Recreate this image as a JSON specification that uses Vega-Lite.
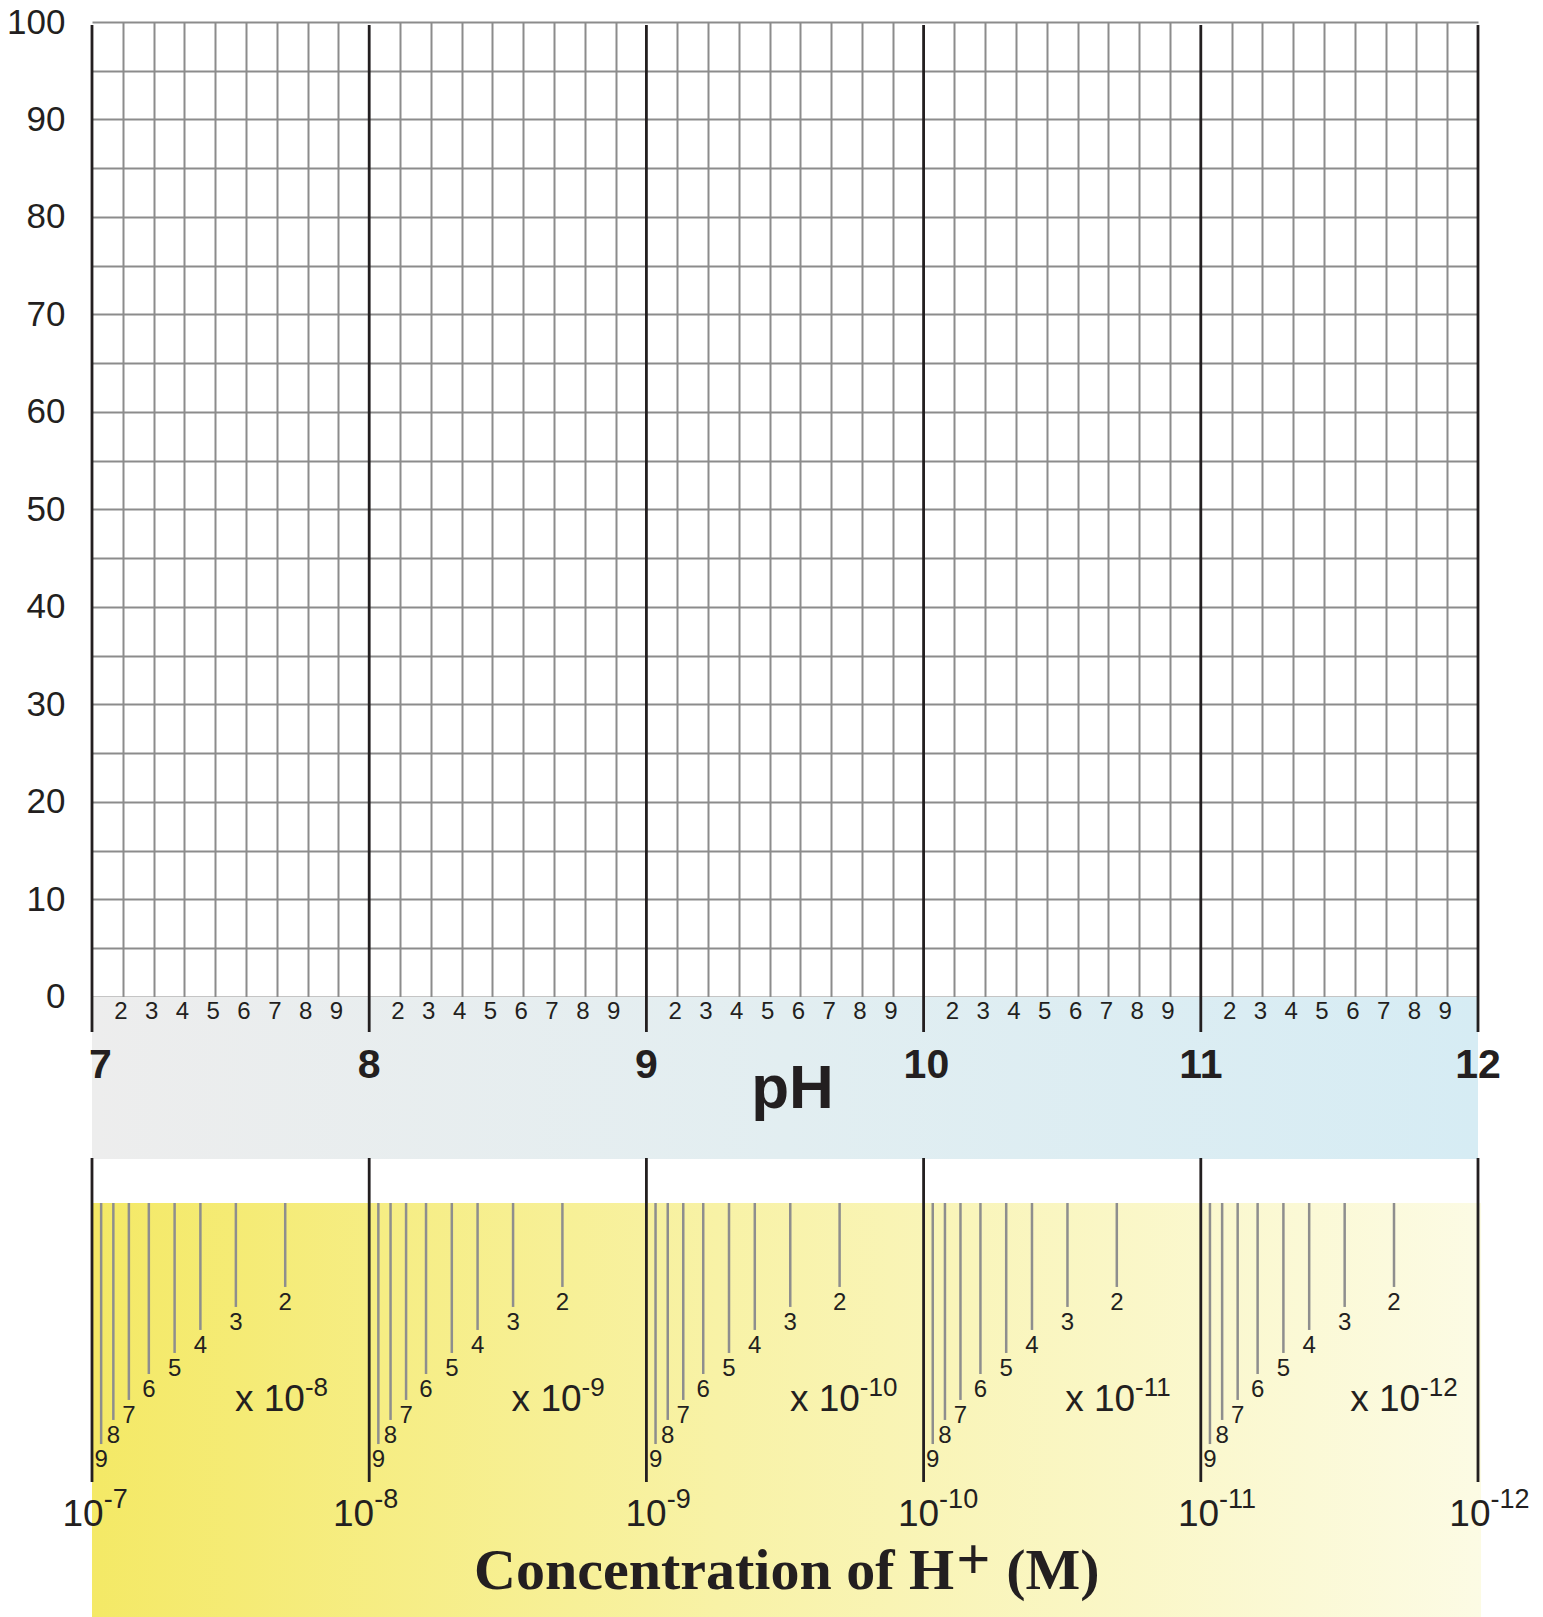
{
  "$schema": "https://vega.github.io/schema/vega-lite/v6.json",
  "width": 1386,
  "height": 1595,
  "padding": {"left": 92, "top": 22, "right": 65, "bottom": 0},
  "autosize": {"type": "none"},
  "background": "white",
  "config": {"view": {"stroke": null}},
  "datasets": {
    "phband": [{"x0": 7, "x1": 12, "y0": 0, "y1": -16.62}],
    "gap": [{"x0": 7, "x1": 12.02, "y0": -16.62, "y1": -21.13}],
    "yband": [{"x0": 7, "x1": 12.011, "y0": -21.13, "y1": -63.59}],
    "majors": [
      {"pH":7,"y0":99.7,"y1":-3.59},{"pH":8,"y0":99.7,"y1":-3.59},{"pH":9,"y0":99.7,"y1":-3.59},{"pH":10,"y0":99.7,"y1":-3.59},{"pH":11,"y0":99.7,"y1":-3.59},{"pH":12,"y0":99.7,"y1":-3.59},
      {"pH":7,"y0":-16.51,"y1":-49.74},{"pH":8,"y0":-16.51,"y1":-49.74},{"pH":9,"y0":-16.51,"y1":-49.74},{"pH":10,"y0":-16.51,"y1":-49.74},{"pH":11,"y0":-16.51,"y1":-49.74},{"pH":12,"y0":-16.51,"y1":-49.74}
    ],
    "vminor": [
      {"pH":7.1111,"k":"2","ly":-1.54},{"pH":7.2222,"k":"3","ly":-1.54},{"pH":7.3333,"k":"4","ly":-1.54},{"pH":7.4444,"k":"5","ly":-1.54},{"pH":7.5556,"k":"6","ly":-1.54},{"pH":7.6667,"k":"7","ly":-1.54},{"pH":7.7778,"k":"8","ly":-1.54},{"pH":7.8889,"k":"9","ly":-1.54},
      {"pH":8.1111,"k":"2","ly":-1.54},{"pH":8.2222,"k":"3","ly":-1.54},{"pH":8.3333,"k":"4","ly":-1.54},{"pH":8.4444,"k":"5","ly":-1.54},{"pH":8.5556,"k":"6","ly":-1.54},{"pH":8.6667,"k":"7","ly":-1.54},{"pH":8.7778,"k":"8","ly":-1.54},{"pH":8.8889,"k":"9","ly":-1.54},
      {"pH":9.1111,"k":"2","ly":-1.54},{"pH":9.2222,"k":"3","ly":-1.54},{"pH":9.3333,"k":"4","ly":-1.54},{"pH":9.4444,"k":"5","ly":-1.54},{"pH":9.5556,"k":"6","ly":-1.54},{"pH":9.6667,"k":"7","ly":-1.54},{"pH":9.7778,"k":"8","ly":-1.54},{"pH":9.8889,"k":"9","ly":-1.54},
      {"pH":10.1111,"k":"2","ly":-1.54},{"pH":10.2222,"k":"3","ly":-1.54},{"pH":10.3333,"k":"4","ly":-1.54},{"pH":10.4444,"k":"5","ly":-1.54},{"pH":10.5556,"k":"6","ly":-1.54},{"pH":10.6667,"k":"7","ly":-1.54},{"pH":10.7778,"k":"8","ly":-1.54},{"pH":10.8889,"k":"9","ly":-1.54},
      {"pH":11.1111,"k":"2","ly":-1.54},{"pH":11.2222,"k":"3","ly":-1.54},{"pH":11.3333,"k":"4","ly":-1.54},{"pH":11.4444,"k":"5","ly":-1.54},{"pH":11.5556,"k":"6","ly":-1.54},{"pH":11.6667,"k":"7","ly":-1.54},{"pH":11.7778,"k":"8","ly":-1.54},{"pH":11.8889,"k":"9","ly":-1.54}
    ],
    "majlab": [{"x":7.03,"t":"7","y":-7.08},{"x":8,"t":"8","y":-7.08},{"x":9,"t":"9","y":-7.08},{"x":10.01,"t":"10","y":-7.08},{"x":11,"t":"11","y":-7.08},{"x":12,"t":"12","y":-7.08}],
    "cticks": [
      {"pH":7.033,"c":"9","yTop":-21.13,"yEnd":-45.85},{"pH":7.077,"c":"8","yTop":-21.13,"yEnd":-43.38},{"pH":7.133,"c":"7","yTop":-21.13,"yEnd":-41.33},{"pH":7.205,"c":"6","yTop":-21.13,"yEnd":-38.67},{"pH":7.298,"c":"5","yTop":-21.13,"yEnd":-36.51},{"pH":7.391,"c":"4","yTop":-21.13,"yEnd":-34.15},{"pH":7.519,"c":"3","yTop":-21.13,"yEnd":-31.79},{"pH":7.697,"c":"2","yTop":-21.13,"yEnd":-29.74},
      {"pH":8.033,"c":"9","yTop":-21.13,"yEnd":-45.85},{"pH":8.077,"c":"8","yTop":-21.13,"yEnd":-43.38},{"pH":8.133,"c":"7","yTop":-21.13,"yEnd":-41.33},{"pH":8.205,"c":"6","yTop":-21.13,"yEnd":-38.67},{"pH":8.298,"c":"5","yTop":-21.13,"yEnd":-36.51},{"pH":8.391,"c":"4","yTop":-21.13,"yEnd":-34.15},{"pH":8.519,"c":"3","yTop":-21.13,"yEnd":-31.79},{"pH":8.697,"c":"2","yTop":-21.13,"yEnd":-29.74},
      {"pH":9.033,"c":"9","yTop":-21.13,"yEnd":-45.85},{"pH":9.077,"c":"8","yTop":-21.13,"yEnd":-43.38},{"pH":9.133,"c":"7","yTop":-21.13,"yEnd":-41.33},{"pH":9.205,"c":"6","yTop":-21.13,"yEnd":-38.67},{"pH":9.298,"c":"5","yTop":-21.13,"yEnd":-36.51},{"pH":9.391,"c":"4","yTop":-21.13,"yEnd":-34.15},{"pH":9.519,"c":"3","yTop":-21.13,"yEnd":-31.79},{"pH":9.697,"c":"2","yTop":-21.13,"yEnd":-29.74},
      {"pH":10.033,"c":"9","yTop":-21.13,"yEnd":-45.85},{"pH":10.077,"c":"8","yTop":-21.13,"yEnd":-43.38},{"pH":10.133,"c":"7","yTop":-21.13,"yEnd":-41.33},{"pH":10.205,"c":"6","yTop":-21.13,"yEnd":-38.67},{"pH":10.298,"c":"5","yTop":-21.13,"yEnd":-36.51},{"pH":10.391,"c":"4","yTop":-21.13,"yEnd":-34.15},{"pH":10.519,"c":"3","yTop":-21.13,"yEnd":-31.79},{"pH":10.697,"c":"2","yTop":-21.13,"yEnd":-29.74},
      {"pH":11.033,"c":"9","yTop":-21.13,"yEnd":-45.85},{"pH":11.077,"c":"8","yTop":-21.13,"yEnd":-43.38},{"pH":11.133,"c":"7","yTop":-21.13,"yEnd":-41.33},{"pH":11.205,"c":"6","yTop":-21.13,"yEnd":-38.67},{"pH":11.298,"c":"5","yTop":-21.13,"yEnd":-36.51},{"pH":11.391,"c":"4","yTop":-21.13,"yEnd":-34.15},{"pH":11.519,"c":"3","yTop":-21.13,"yEnd":-31.79},{"pH":11.697,"c":"2","yTop":-21.13,"yEnd":-29.74}
    ],
    "xten": [
      {"x":7.768,"e":"-8","yb":-42.46,"ye":-40.92},{"x":8.766,"e":"-9","yb":-42.46,"ye":-40.92},{"x":9.770,"e":"-10","yb":-42.46,"ye":-40.92},{"x":10.763,"e":"-11","yb":-42.46,"ye":-40.92},{"x":11.791,"e":"-12","yb":-42.46,"ye":-40.92}
    ],
    "decl": [
      {"x":7.042,"e":"-7","yb":-54.26,"ye":-52.41},{"x":8.018,"e":"-8","yb":-54.26,"ye":-52.41},{"x":9.073,"e":"-9","yb":-54.26,"ye":-52.41},{"x":10.056,"e":"-10","yb":-54.26,"ye":-52.41},{"x":11.066,"e":"-11","yb":-54.26,"ye":-52.41},{"x":12.045,"e":"-12","yb":-54.26,"ye":-52.41}
    ],
    "phtitle": [{"x": 9.527, "y": -11.38, "t": "pH"}],
    "ctitle": [{"x": 10.110, "y": -60.72, "t": "Concentration of H"}],
    "cplus": [{"x": 10.118, "y": -59.65, "t": "+"}],
    "cunit": [{"x": 10.298, "y": -60.72, "t": "(M)"}]
  },
  "layer": [
    {
      "data": {"name": "phband"},
      "mark": {"type": "rect", "fill": {"gradient": "linear", "x1": 0, "y1": 0, "x2": 1, "y2": 0, "stops": [{"offset": 0, "color": "#ededed"}, {"offset": 0.5, "color": "#e2eef1"}, {"offset": 1, "color": "#d6ecf4"}]}},
      "encoding": {
        "x": {"field": "x0", "type": "quantitative",
              "scale": {"domain": [7, 12], "nice": false, "zero": false},
              "axis": {"values": [7.1111,7.2222,7.3333,7.4444,7.5556,7.6667,7.7778,7.8889,8.1111,8.2222,8.3333,8.4444,8.5556,8.6667,8.7778,8.8889,9.1111,9.2222,9.3333,9.4444,9.5556,9.6667,9.7778,9.8889,10.1111,10.2222,10.3333,10.4444,10.5556,10.6667,10.7778,10.8889,11.1111,11.2222,11.3333,11.4444,11.5556,11.6667,11.7778,11.8889],
                       "tickCount": 200,
                       "grid": true, "gridColor": "#8c8c8c", "gridWidth": 2, "gridOpacity": 1,
                       "labels": false, "ticks": false, "domain": false, "title": null, "zindex": 0}},
        "x2": {"field": "x1"},
        "y": {"field": "y0", "type": "quantitative",
              "scale": {"domain": [-63.59, 100], "nice": false, "zero": false},
              "axis": {"values": [0,5,10,15,20,25,30,35,40,45,50,55,60,65,70,75,80,85,90,95,100],
                       "tickCount": 200,
                       "grid": true, "gridColor": "#8c8c8c", "gridWidth": 2, "gridOpacity": 1,
                       "labelExpr": "datum.value % 10 === 0 ? datum.label : ''",
                       "labelOverlap": false, "labelFontSize": 35, "labelFont": "Liberation Sans", "labelColor": "#231f20",
                       "labelPadding": 27, "ticks": false, "tickSize": 0, "domain": false, "title": null, "zindex": 0}},
        "y2": {"field": "y1"}
      }
    },
    {
      "data": {"name": "gap"},
      "mark": {"type": "rect", "fill": "white"},
      "encoding": {
        "x": {"field": "x0", "type": "quantitative"},
        "x2": {"field": "x1"},
        "y": {"field": "y0", "type": "quantitative"},
        "y2": {"field": "y1"}
      }
    },
    {
      "data": {"name": "yband"},
      "mark": {"type": "rect", "fill": {"gradient": "linear", "x1": 0, "y1": 0, "x2": 1, "y2": 0, "stops": [{"offset": 0, "color": "#f4e966"}, {"offset": 0.45, "color": "#f8f2a6"}, {"offset": 1, "color": "#fcfbe4"}]}},
      "encoding": {
        "x": {"field": "x0", "type": "quantitative"},
        "x2": {"field": "x1"},
        "y": {"field": "y0", "type": "quantitative"},
        "y2": {"field": "y1"}
      }
    },
    {
      "data": {"name": "majors"},
      "mark": {"type": "rule", "color": "#231f20", "strokeWidth": 2.8},
      "encoding": {
        "x": {"field": "pH", "type": "quantitative"},
        "y": {"field": "y0", "type": "quantitative"},
        "y2": {"field": "y1"}
      }
    },
    {
      "data": {"name": "cticks"},
      "mark": {"type": "rule", "color": "#8e8e8e", "strokeWidth": 2.5},
      "encoding": {
        "x": {"field": "pH", "type": "quantitative"},
        "y": {"field": "yTop", "type": "quantitative"},
        "y2": {"field": "yEnd"}
      }
    },
    {
      "data": {"name": "vminor"},
      "mark": {"type": "text", "align": "center", "baseline": "middle", "fontSize": 24, "dx": -2, "font": "Liberation Sans", "color": "#231f20"},
      "encoding": {
        "x": {"field": "pH", "type": "quantitative"},
        "y": {"field": "ly", "type": "quantitative"},
        "text": {"field": "k", "type": "nominal"}
      }
    },
    {
      "data": {"name": "majlab"},
      "mark": {"type": "text", "align": "center", "baseline": "middle", "fontSize": 41, "fontWeight": "bold", "font": "Liberation Sans", "color": "#231f20"},
      "encoding": {
        "x": {"field": "x", "type": "quantitative"},
        "y": {"field": "y", "type": "quantitative"},
        "text": {"field": "t", "type": "nominal"}
      }
    },
    {
      "data": {"name": "phtitle"},
      "mark": {"type": "text", "align": "center", "baseline": "alphabetic", "fontSize": 62, "fontWeight": "bold", "font": "Liberation Sans", "color": "#231f20"},
      "encoding": {
        "x": {"field": "x", "type": "quantitative"},
        "y": {"field": "y", "type": "quantitative"},
        "text": {"field": "t", "type": "nominal"}
      }
    },
    {
      "data": {"name": "cticks"},
      "mark": {"type": "text", "align": "center", "baseline": "middle", "fontSize": 24, "dy": 16, "font": "Liberation Sans", "color": "#231f20"},
      "encoding": {
        "x": {"field": "pH", "type": "quantitative"},
        "y": {"field": "yEnd", "type": "quantitative"},
        "text": {"field": "c", "type": "nominal"}
      }
    },
    {
      "data": {"name": "xten"},
      "mark": {"type": "text", "align": "right", "baseline": "alphabetic", "fontSize": 37, "font": "Liberation Sans", "color": "#231f20", "text": "x 10"},
      "encoding": {
        "x": {"field": "x", "type": "quantitative"},
        "y": {"field": "yb", "type": "quantitative"}
      }
    },
    {
      "data": {"name": "xten"},
      "mark": {"type": "text", "align": "left", "baseline": "alphabetic", "fontSize": 26, "font": "Liberation Sans", "color": "#231f20"},
      "encoding": {
        "x": {"field": "x", "type": "quantitative"},
        "y": {"field": "ye", "type": "quantitative"},
        "text": {"field": "e", "type": "nominal"}
      }
    },
    {
      "data": {"name": "decl"},
      "mark": {"type": "text", "align": "right", "baseline": "alphabetic", "fontSize": 37, "font": "Liberation Sans", "color": "#231f20", "text": "10"},
      "encoding": {
        "x": {"field": "x", "type": "quantitative"},
        "y": {"field": "yb", "type": "quantitative"}
      }
    },
    {
      "data": {"name": "decl"},
      "mark": {"type": "text", "align": "left", "baseline": "alphabetic", "fontSize": 27, "font": "Liberation Sans", "color": "#231f20"},
      "encoding": {
        "x": {"field": "x", "type": "quantitative"},
        "y": {"field": "ye", "type": "quantitative"},
        "text": {"field": "e", "type": "nominal"}
      }
    },
    {
      "data": {"name": "ctitle"},
      "mark": {"type": "text", "align": "right", "baseline": "alphabetic", "fontSize": 58, "fontWeight": "bold", "font": "Liberation Serif", "color": "#231f20"},
      "encoding": {
        "x": {"field": "x", "type": "quantitative"},
        "y": {"field": "y", "type": "quantitative"},
        "text": {"field": "t", "type": "nominal"}
      }
    },
    {
      "data": {"name": "cplus"},
      "mark": {"type": "text", "align": "left", "baseline": "alphabetic", "fontSize": 60, "fontWeight": "bold", "font": "Liberation Serif", "color": "#231f20"},
      "encoding": {
        "x": {"field": "x", "type": "quantitative"},
        "y": {"field": "y", "type": "quantitative"},
        "text": {"field": "t", "type": "nominal"}
      }
    },
    {
      "data": {"name": "cunit"},
      "mark": {"type": "text", "align": "left", "baseline": "alphabetic", "fontSize": 58, "fontWeight": "bold", "font": "Liberation Serif", "color": "#231f20"},
      "encoding": {
        "x": {"field": "x", "type": "quantitative"},
        "y": {"field": "y", "type": "quantitative"},
        "text": {"field": "t", "type": "nominal"}
      }
    }
  ]
}
